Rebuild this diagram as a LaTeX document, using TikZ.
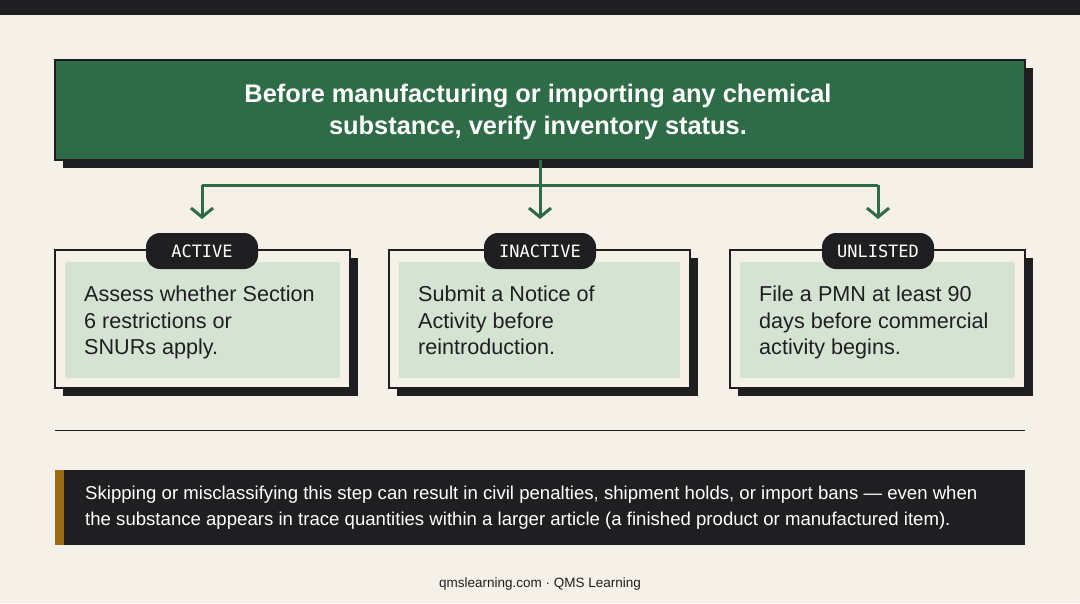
\documentclass[tikz,border=0pt]{standalone}
\usepackage{fontspec}
\setmainfont{Liberation Sans}
\setmonofont{DejaVu Sans Mono}
\usetikzlibrary{arrows.meta,positioning}
\definecolor{cream}{HTML}{F5F1E8}
\definecolor{ink}{HTML}{1F1F22}
\definecolor{leaf}{HTML}{2E6B47}
\definecolor{sage}{HTML}{D5E3D2}
\definecolor{gold}{HTML}{9A6B12}
\tikzset{
  shadowbox/.style={fill=ink},
  card/.style={draw=ink, line width=1.2pt, fill=cream},
  tag/.style={fill=ink, text=white, rounded corners=14pt, minimum width=112pt,
    minimum height=36pt, font=\ttfamily\fontsize{17}{20}\selectfont},
  cardtext/.style={anchor=north west, align=left, text=ink, inner sep=0pt,
    font=\fontsize{21.6}{26.5}\selectfont},
  trunk/.style={draw=leaf, line width=3pt},
  flow/.style={trunk, -{Straight Barb[length=9pt,width=22pt,line width=3pt]}}
}
\begin{document}
\begin{tikzpicture}[x=1pt,y=-1pt]
  \useasboundingbox (0,0) rectangle (1080,603);
  \fill[cream] (0,0) rectangle (1080,603);
  \fill[ink] (0,0) rectangle (1080,15);

  % title
  \fill[shadowbox] (63,68) rectangle (1033,168);
  \draw[fill=leaf, draw=ink, line width=1.2pt] (55,60) rectangle (1025,160);
  \node[text=white, align=center, font=\bfseries\fontsize{25.4}{32}\selectfont] (title) at (538,112)
    {Before manufacturing or importing any chemical\\substance, verify inventory status.};

  % connectors
  \coordinate (split) at (540,185);
  \coordinate (left) at (202,185);
  \coordinate (right) at (878,185);
  \coordinate (tl) at (202,219);
  \coordinate (tm) at (540,219);
  \coordinate (tr) at (878,219);
  \draw[trunk] (540,160) -- (split);
  \draw[trunk] (left) -- (right);
  \draw[flow] (left) -- (tl);
  \draw[flow] (split) -- (tm);
  \draw[flow] (right) -- (tr);

  % cards
  \foreach \xa/\xb/\cx/\lab/\txt in {
      55/350/202/ACTIVE/{Assess whether Section\\6 restrictions or\\SNURs apply.},
      389/690/540/INACTIVE/{Submit a Notice of\\Activity before\\reintroduction.},
      730/1025/878/UNLISTED/{File a PMN at least 90\\days before commercial\\activity begins.}} {
    \fill[shadowbox] (\xa+8,258) rectangle (\xb+8,396);
    \draw[card] (\xa,250) rectangle (\xb,388);
    \fill[sage] (\xa+10,262) rectangle (\xb-10,378);
    \node[tag] (tag-\lab) at (\cx,251) {\lab};
    \node[cardtext] (txt-\lab) at (\xa+29,286) {\txt};
  }

  % rule
  \draw[ink, line width=1pt] (55,430) -- (1025,430);

  % note
  \fill[ink] (55,470) rectangle (1025,545);
  \fill[gold] (55,470) rectangle (64,545);
  \node[anchor=west, text=white, align=left, inner sep=0pt, font=\fontsize{18.6}{26}\selectfont] (note) at (85,508)
    {Skipping or misclassifying this step can result in civil penalties, shipment holds, or import bans --- even when\\
     the substance appears in trace quantities within a larger article (a finished product or manufactured item).};

  \node[text=ink, font=\fontsize{13.5}{16}\selectfont] (foot) at (540,584) {qmslearning.com · QMS Learning};
\end{tikzpicture}
\end{document}
